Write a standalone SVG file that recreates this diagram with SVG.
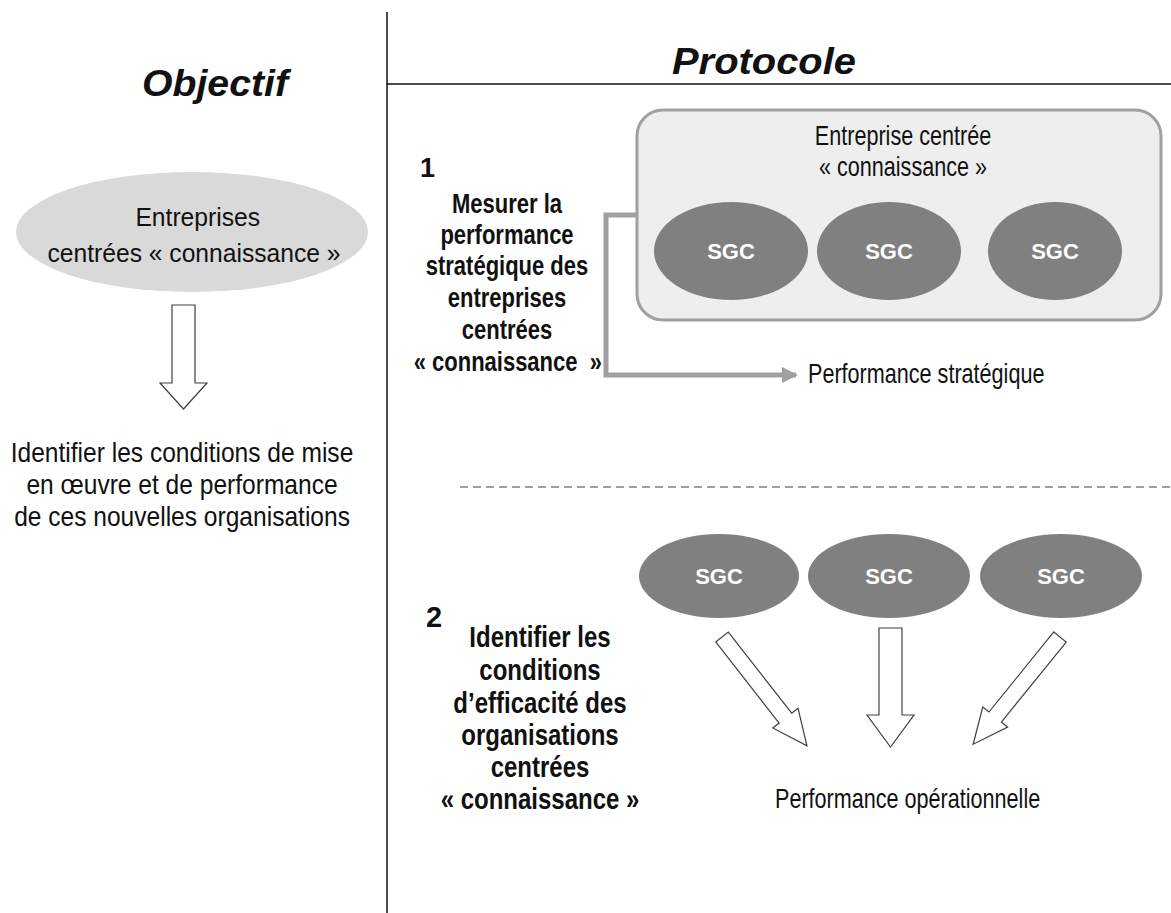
<svg xmlns="http://www.w3.org/2000/svg" width="1171" height="913" viewBox="0 0 1171 913">
<defs>
<style>
.title{font-family:"Liberation Sans",Arial,sans-serif;font-weight:bold;font-style:italic;font-size:36px;fill:#111;text-anchor:middle}
.reg{font-family:"Liberation Sans",Arial,sans-serif;font-size:27px;fill:#111;text-anchor:middle}
.ell{font-family:"Liberation Sans",Arial,sans-serif;font-size:26.5px;fill:#111;text-anchor:middle}
.nar{font-family:"Liberation Sans",Arial,sans-serif;font-size:27px;fill:#111;text-anchor:middle}
.nb1{font-family:"Liberation Sans",Arial,sans-serif;font-weight:bold;font-size:27px;fill:#111;text-anchor:middle}
.nb2{font-family:"Liberation Sans",Arial,sans-serif;font-weight:bold;font-size:30px;fill:#111;text-anchor:middle}
.num{font-family:"Liberation Sans",Arial,sans-serif;font-weight:bold;font-size:27px;fill:#111}
.sgc{fill:#808080}
.sgct{font-family:"Liberation Sans",Arial,sans-serif;font-weight:bold;font-size:22px;fill:#fff;text-anchor:middle}
.hollow{fill:#fff;stroke:#404040;stroke-width:1.2}
</style>
<marker id="ah" markerUnits="userSpaceOnUse" markerWidth="16" markerHeight="16" refX="14" refY="8" orient="auto">
<path d="M0,0 L16,8 L0,16 Z" fill="#a0a0a0"/>
</marker>
</defs>
<rect width="1171" height="913" fill="#fff"/>

<g id="frame">
<line x1="387" y1="12" x2="387" y2="913" stroke="#111" stroke-width="1.5"/>
<line x1="387" y1="84" x2="1171" y2="84" stroke="#111" stroke-width="1.5"/>
<line x1="460" y1="487" x2="1171" y2="487" stroke="#808080" stroke-width="1.5" stroke-dasharray="8 5"/>
</g>

<g id="title-objectif"><text class="title" x="215" y="96" textLength="146" lengthAdjust="spacingAndGlyphs">Objectif</text></g>
<g id="title-protocole"><text class="title" x="764" y="74" textLength="184" lengthAdjust="spacingAndGlyphs">Protocole</text></g>

<g id="node-entreprises">
<ellipse cx="192" cy="232" rx="176" ry="60" fill="#d9d9d9"/>
<g transform="matrix(0.93,0,0,1,13.6,0)">
<text class="ell" x="198" y="226">Entreprises</text>
<text class="ell" x="194" y="262">centrées « connaissance »</text>
</g>
</g>

<g id="node-identifier" transform="matrix(0.91,0,0,1,16.4,0)">
<text class="reg" x="182" y="462">Identifier les conditions de mise</text>
<text class="reg" x="182" y="494">en œuvre et de performance</text>
<text class="reg" x="182" y="526">de ces nouvelles organisations</text>
</g>

<g id="label-1">
<text class="num" x="420" y="177">1</text>
<g transform="matrix(0.815,0,0,1,93.8,0)">
<text class="nb1" x="507" y="213">Mesurer la</text>
<text class="nb1" x="507" y="244">performance</text>
<text class="nb1" x="507" y="275">stratégique des</text>
<text class="nb1" x="507" y="307">entreprises</text>
<text class="nb1" x="507" y="339">centrées</text>
<text class="nb1" x="508" y="371">« connaissance&#160; »</text>
</g>
</g>

<g id="node-entreprise-centree">
<rect x="637" y="110" width="524" height="210" rx="26" ry="26" fill="#eeeeee" stroke="#a0a0a0" stroke-width="3"/>
<g transform="matrix(0.8,0,0,1,180.6,0)">
<text class="nar" x="903" y="145">Entreprise centrée</text>
<text class="nar" x="903" y="176">« connaissance »</text>
</g>
</g>
<g id="sgc-top-1"><ellipse class="sgc" cx="731" cy="251" rx="77" ry="49"/><text class="sgct" x="731" y="259">SGC</text></g>
<g id="sgc-top-2"><ellipse class="sgc" cx="889" cy="251" rx="72" ry="49"/><text class="sgct" x="889" y="259">SGC</text></g>
<g id="sgc-top-3"><ellipse class="sgc" cx="1055" cy="251" rx="67" ry="49"/><text class="sgct" x="1055" y="259">SGC</text></g>

<g id="node-perf-strat" transform="matrix(0.8,0,0,1,161.6,0)"><text class="nar" x="808" y="383" style="text-anchor:start">Performance stratégique</text></g>

<g id="label-2">
<text class="num" x="426" y="627" style="font-size:29px">2</text>
<g transform="matrix(0.8,0,0,1,108,0)">
<text class="nb2" x="540" y="647">Identifier les</text>
<text class="nb2" x="540" y="680">conditions</text>
<text class="nb2" x="540" y="713">d’efficacité des</text>
<text class="nb2" x="540" y="745">organisations</text>
<text class="nb2" x="540" y="777">centrées</text>
<text class="nb2" x="540" y="809">« connaissance »</text>
</g>
</g>

<g id="sgc-bot-1"><ellipse class="sgc" cx="719" cy="576" rx="80" ry="42"/><text class="sgct" x="719" y="584">SGC</text></g>
<g id="sgc-bot-2"><ellipse class="sgc" cx="889" cy="576" rx="81" ry="42"/><text class="sgct" x="889" y="584">SGC</text></g>
<g id="sgc-bot-3"><ellipse class="sgc" cx="1061" cy="576" rx="81" ry="42"/><text class="sgct" x="1061" y="584">SGC</text></g>

<g id="node-perf-op" transform="matrix(0.8,0,0,1,155,0)"><text class="nar" x="775" y="808" style="text-anchor:start">Performance opérationnelle</text></g>

<g id="connectors">
<polygon class="hollow" points="172,305 195,305 195,383 207,383 183.5,409 160,383 172,383"/>
<path d="M637,215 H606 V375 H796" fill="none" stroke="#a0a0a0" stroke-width="5" marker-end="url(#ah)"/>
<polygon class="hollow" transform="translate(722,637) rotate(-38)" points="-8,0 8,0 8,103 16,103 0,138 -16,103 -8,103"/>
<polygon class="hollow" points="879,628 902,628 902,715 914,715 890.5,747 867,715 879,715"/>
<polygon class="hollow" transform="translate(1060,637) rotate(39)" points="-8,0 8,0 8,103 16,103 0,138 -16,103 -8,103"/>
</g>
</svg>
